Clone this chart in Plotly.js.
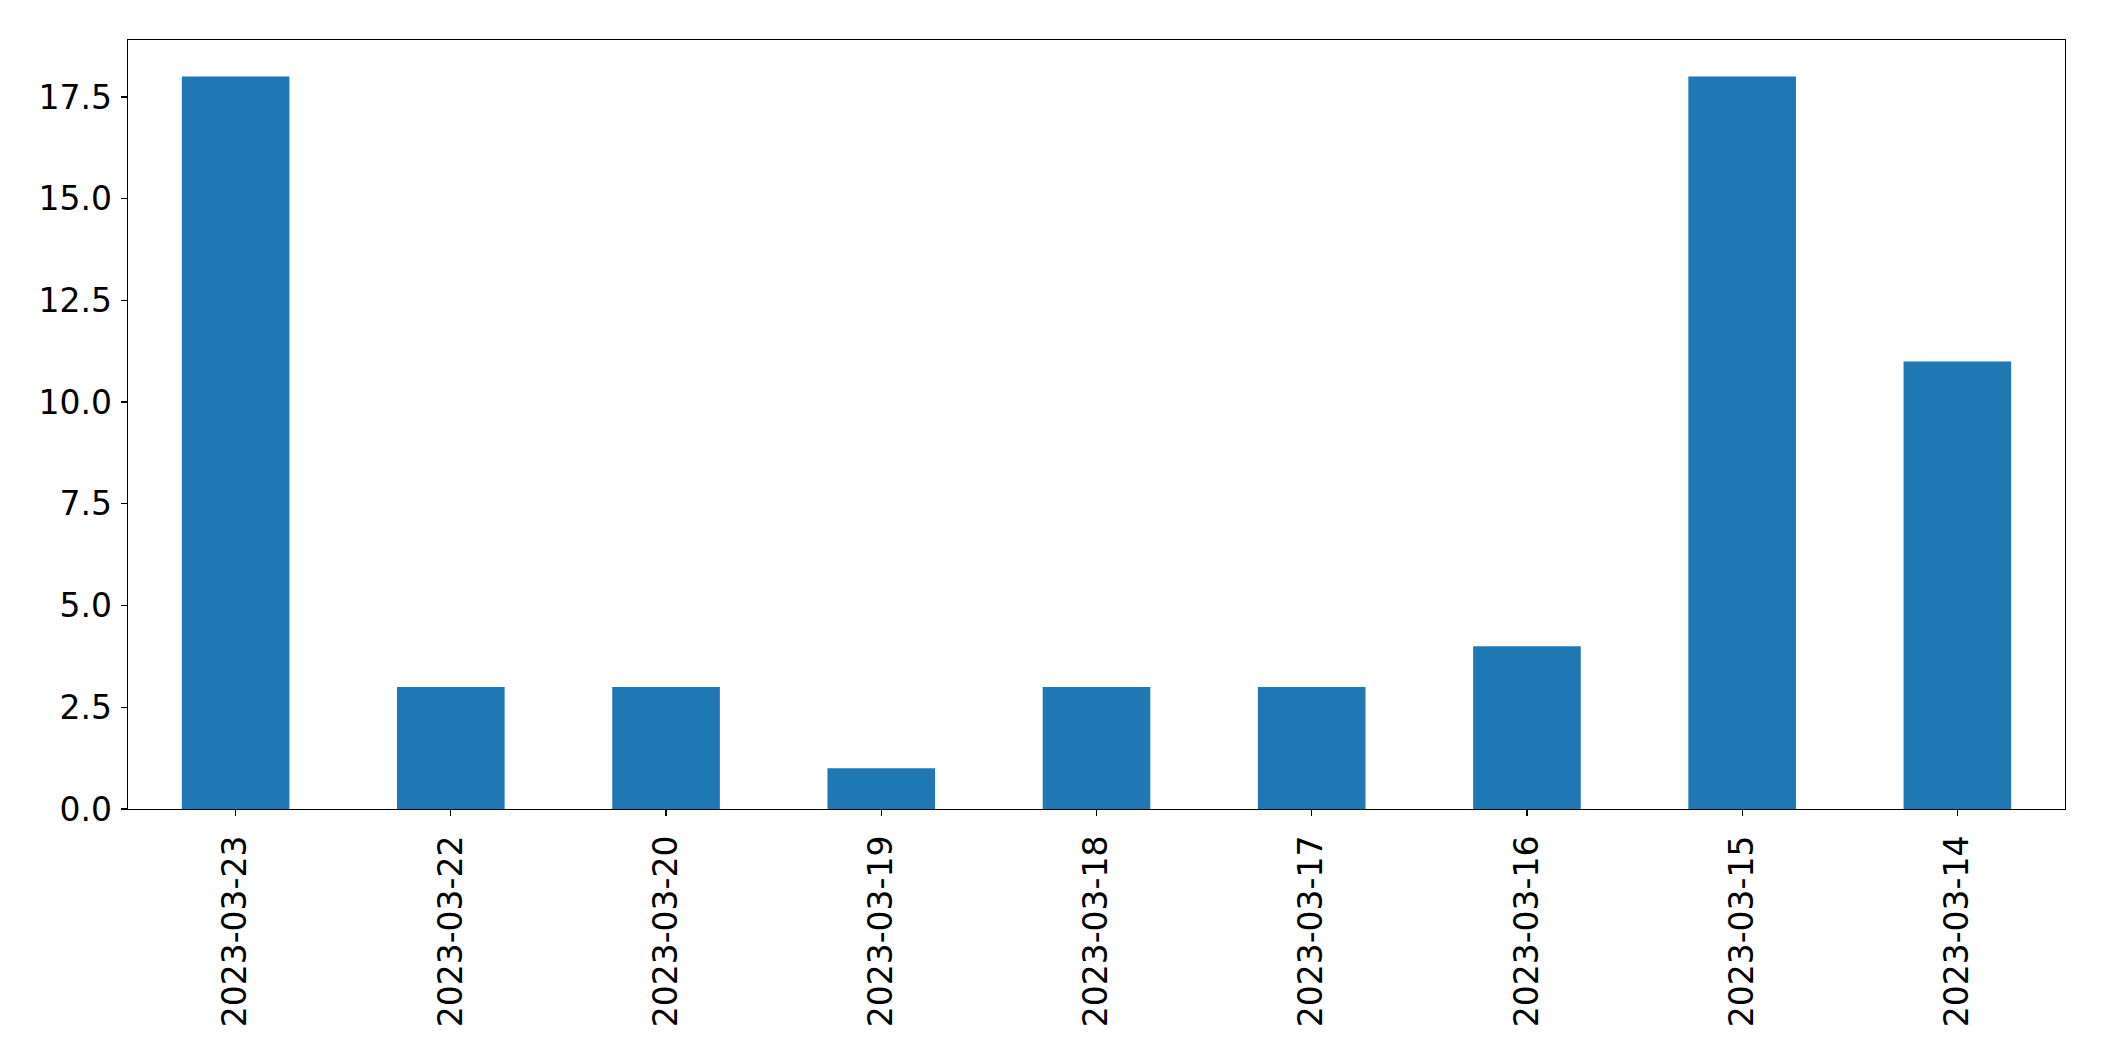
<!DOCTYPE html>
<html>
<head>
<meta charset="utf-8">
<script src="https://cdn.plot.ly/plotly-3.0.1.min.js"></script>
<style>html,body{margin:0;padding:0;background:#fff;}#chart{width:2104px;height:1061px;}</style>
</head>
<body>
<div id="chart"></div>
<script>
const dates = ["2023-03-23","2023-03-22","2023-03-20","2023-03-19","2023-03-18","2023-03-17","2023-03-16","2023-03-15","2023-03-14"];
const counts = [18, 3, 3, 1, 3, 3, 4, 18, 11];
const yTicks = [0, 2.5, 5, 7.5, 10, 12.5, 15, 17.5];

const trace = {
  type: 'bar',
  x: dates,
  y: counts,
  marker: {color: '#1f77b4', line: {width: 0}},
  hoverinfo: 'x+y'
};

const layout = {
  width: 2104,
  height: 1061,
  margin: {l: 127.5, r: 38.5, t: 40, b: 251.5, pad: 0},
  paper_bgcolor: '#ffffff',
  plot_bgcolor: '#ffffff',
  bargap: 0.5,
  showlegend: false,
  font: {family: 'DejaVu Sans', size: 33, color: '#000000'},
  xaxis: {
    type: 'category',
    range: [-0.5, 8.5],
    tickangle: -90,
    ticks: 'outside',
    ticklen: 6,
    tickwidth: 1.3,
    tickcolor: '#000',
    showline: true,
    mirror: true,
    linecolor: '#000',
    linewidth: 1.3,
    showgrid: false,
    zeroline: false,
    ticklabelstandoff: 6,
    tickfont: {family: 'DejaVu Sans', size: 33, color: '#000'}
  },
  yaxis: {
    range: [0, 18.9],
    tickvals: yTicks,
    ticktext: yTicks.map(v => v.toFixed(1)),
    ticks: 'outside',
    ticklen: 6,
    tickwidth: 1.3,
    tickcolor: '#000',
    showline: true,
    mirror: true,
    linecolor: '#000',
    linewidth: 1.3,
    showgrid: false,
    zeroline: false,
    ticklabelstandoff: 2,
    tickfont: {family: 'DejaVu Sans', size: 33, color: '#000'}
  }
};

Plotly.newPlot('chart', [trace], layout, {displayModeBar: false, staticPlot: true});
</script>
</body>
</html>
